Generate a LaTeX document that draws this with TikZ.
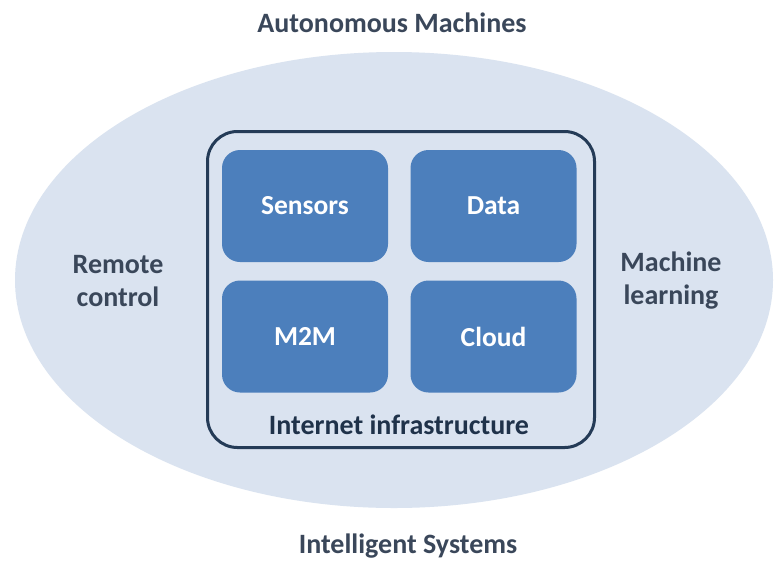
\documentclass[tikz,border=0pt]{standalone}
\usepackage{fontspec}
\setmainfont{Carlito}
\definecolor{ringfill}{HTML}{DAE3F0}
\definecolor{tilefill}{HTML}{4C7FBC}
\definecolor{frameline}{HTML}{243B57}
\definecolor{labeltext}{HTML}{3A475A}
\tikzset{
  x=1pt, y=-1pt,
  outerlabel/.style={font=\fontsize{28}{33}\selectfont\bfseries, text=labeltext, align=center, inner sep=0pt},
  tile/.style={fill=tilefill, rounded corners=18pt, minimum width=166pt, minimum height=112pt,
    inner sep=0pt, text=white, font=\fontsize{27.5}{32}\selectfont\bfseries},
  frame/.style={draw=frameline, line width=3pt, fill=ringfill, rounded corners=30pt,
    minimum width=387pt, minimum height=316pt, inner sep=0pt},
}
\begin{document}
\begin{tikzpicture}
\useasboundingbox[fill=white] (0,0) rectangle (775,563);
% light elliptical field
\fill[ringfill] (394,280) ellipse [x radius=379, y radius=228];
% framed infrastructure block
\node[frame] (infra) at (401,289.5) {};
\node[tile] (sensors) at (305,206) {Sensors};
\node[tile] (data)    at (493.5,206) {Data};
\node[tile] (m2m)     at (305,336.5) {M2M};
\node[tile] (cloud)   at (493.5,336.5) {Cloud};
\node[outerlabel, text=frameline!85!black, anchor=base] (internet) at (399,434) {Internet infrastructure};
% surrounding labels
\node[outerlabel, anchor=base] (auto)  at (392,32)  {Autonomous Machines};
\node[outerlabel, anchor=base] (intel) at (408,553) {Intelligent Systems};
\node[outerlabel] (remote) at (118,281) {Remote\\control};
\node[outerlabel] (ml)     at (671,281) {Machine\\learning};
\end{tikzpicture}
\end{document}
